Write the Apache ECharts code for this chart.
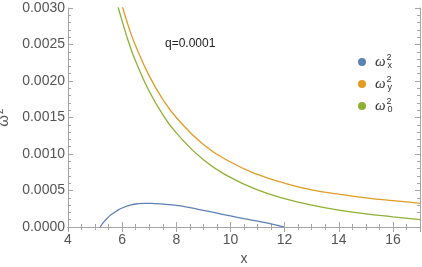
<!DOCTYPE html>
<html>
<head>
<meta charset="utf-8">
<script src="https://cdn.jsdelivr.net/npm/echarts@6/dist/echarts.min.js"></script>
<style>html,body{margin:0;padding:0;background:#fff}#c{width:422px;height:267px}</style>
</head>
<body>
<div id="c"></div>
<script>
// ---- data ----
const omegaX = [[5.19,0],[5.3,0.00006],[5.45,0.00012],[5.6,0.00017],[5.8,0.00022],[6.0,0.00026],[6.3,0.0003],[6.6,0.00032],[6.85,0.000325],[7.2,0.00032],[7.6,0.00031],[8.0,0.000295],[8.5,0.000265],[9.0,0.000228],[9.5,0.00019],[10.0,0.000152],[10.5,0.000115],[11.0,0.00008],[11.5,0.000043],[11.97,0]];
const omegaY = [[6.0,0.00303],[6.25,0.00273],[6.5,0.00248],[7.0,0.00207],[7.5,0.00175],[8.0,0.0015],[9.0,0.00113],[10.0,0.00089],[11.0,0.00072],[12.0,0.0006],[13.0,0.00051],[14.0,0.00045],[15.0,0.0004],[16.0,0.00036],[17.0,0.000325]];
const omega0 = [[5.85,0.00301],[6.0,0.00282],[6.25,0.00252],[6.5,0.00227],[7.0,0.00186],[7.5,0.00154],[8.0,0.00129],[9.0,0.00092],[10.0,0.00068],[11.0,0.00051],[12.0,0.00039],[13.0,0.0003],[14.0,0.00023],[15.0,0.00018],[16.0,0.00014],[17.0,0.0001]];
const seriesNames = ['wx','wy','w0'];
const legendSubs = {wx:'x', wy:'y', w0:'0'};
const colors = ['#5E81B5','#E19C24','#8FB032'];
const xTicks = [4,6,8,10,12,14,16];
const yTicks = ['0.0000','0.0005','0.0010','0.0015','0.0020','0.0025','0.0030'];
const annotation = 'q=0.0001';

const frameColor = '#a6a6a6';
const labelFont = {color:'#555', fontSize:14, fontFamily:'Liberation Sans'};
function frameAxis(extra){
  return Object.assign({
    axisLine:{show:true, lineStyle:{color:frameColor, width:1}},
    axisTick:{show:true, inside:true, length:5, lineStyle:{color:frameColor}},
    minorTick:{show:true, length:3, lineStyle:{color:frameColor}},
    splitLine:{show:false}
  }, extra);
}
const chart = echarts.init(document.getElementById('c'), null, {renderer:'canvas'});
chart.setOption({
  animation:false,
  color:colors,
  grid:{left:68, right:2, top:8, bottom:40, outerBoundsMode:'none', containLabel:false},
  graphic:[{type:'text', left:165, top:38, style:{text:annotation, fill:'#222', font:'12px "Liberation Sans"'}}],
  legend:{
    orient:'vertical', left:353, top:48, itemGap:4, itemWidth:8, itemHeight:8,
    icon:'circle', data:seriesNames,
    formatter: n => '{w|ω}{sup|2}{sub|' + legendSubs[n] + '}',
    textStyle:{
      padding:[0,0,0,4],
      rich:{
        w:{fontStyle:'italic', fontSize:15, fontFamily:'Liberation Serif', color:'#333', lineHeight:20, verticalAlign:'middle'},
        sup:{fontSize:9, fontFamily:'Liberation Sans', color:'#333', width:0, lineHeight:20, verticalAlign:'middle', padding:[0,0,9,1]},
        sub:{fontSize:9, fontFamily:'Liberation Sans', color:'#333', lineHeight:20, verticalAlign:'middle', padding:[7,0,0,1]}
      }
    }
  },
  xAxis:[
    frameAxis({type:'value', min:4, max:17, interval:2,
      minorTick:{show:true, splitNumber:4, length:3, lineStyle:{color:frameColor}},
      axisLabel:Object.assign({margin:6, formatter:v => xTicks.includes(v) ? String(v) : ''}, labelFont),
      name:'x', nameLocation:'middle', nameGap:23, nameTextStyle:{color:'#555', fontSize:14, fontFamily:'Liberation Sans'}}),
    frameAxis({type:'value', position:'top', min:4, max:17, interval:2,
      minorTick:{show:true, splitNumber:4, length:3, lineStyle:{color:frameColor}},
      axisLabel:{show:false}})
  ],
  yAxis:[
    frameAxis({type:'value', min:0, max:0.003, interval:0.0005,
      minorTick:{show:true, splitNumber:5, length:3, lineStyle:{color:frameColor}},
      axisLabel:Object.assign({margin:3, formatter:(v,i) => yTicks[i]}, labelFont),
      name:'{w|ω}{s|2}', nameLocation:'middle', nameGap:50, nameRotate:90,
      nameTextStyle:{rich:{w:{fontSize:15, color:'#555', fontFamily:'Liberation Sans', verticalAlign:'bottom'}, s:{fontSize:10, color:'#555', fontFamily:'Liberation Sans', verticalAlign:'top', padding:[0,0,6,1]}}}}),
    frameAxis({type:'value', position:'right', min:0, max:0.003, interval:0.0005,
      minorTick:{show:true, splitNumber:5, length:3, lineStyle:{color:frameColor}},
      axisLabel:{show:false}})
  ],
  series:[
    {name:'wx', type:'line', data:omegaX, smooth:true, showSymbol:false, lineStyle:{width:1.3, color:colors[0]}, clip:true},
    {name:'wy', type:'line', data:omegaY, smooth:true, showSymbol:false, lineStyle:{width:1.3, color:colors[1]}, clip:true},
    {name:'w0', type:'line', data:omega0, smooth:true, showSymbol:false, lineStyle:{width:1.3, color:colors[2]}, clip:true}
  ]
});
</script>
</body>
</html>
